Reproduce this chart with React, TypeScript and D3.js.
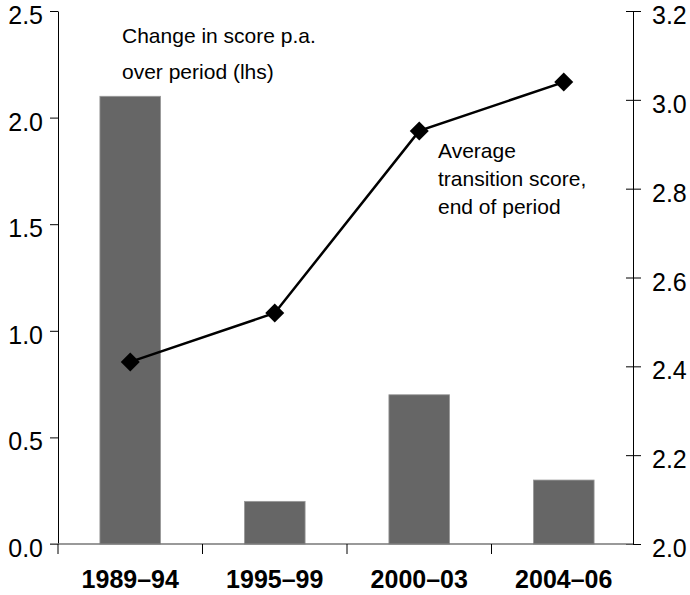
import { useEffect, useRef } from 'react'
import * as d3 from 'd3'

const periods = ['1989–94', '1995–99', '2000–03', '2004–06']
const changePA = [2.1, 0.2, 0.7, 0.3]
const avgScore = [2.41, 2.52, 2.93, 3.04]
const leftTicks = [0, 0.5, 1.0, 1.5, 2.0, 2.5]
const rightTicks = [2.0, 2.2, 2.4, 2.6, 2.8, 3.0, 3.2]

const W = 690
const H = 595
const FONT = '"Liberation Sans", Arial, sans-serif'

export default function App() {
  const svgRef = useRef<SVGSVGElement>(null)

  useEffect(() => {
    if (!svgRef.current) return
    const svg = d3.select(svgRef.current)
    svg.selectAll('*').remove()

    const left = 58
    const right = 633
    const top = 11
    const bottom = 544

    // category scales: one for the tick slots, one for the bars
    const xSlot = d3.scaleBand<string>().domain(periods).range([left, 636])
    const xBar = d3.scaleBand<string>().domain(periods).range([left, 636])
      .paddingInner(0.58).paddingOuter(0.29)

    const yL = d3.scaleLinear().domain([0, 2.5]).range([bottom, top])
    const yR = d3.scaleLinear().domain([2.0, 3.2]).range([bottom, top])

    // bars
    svg.append('g')
      .selectAll('rect')
      .data(periods)
      .enter().append('rect')
      .attr('x', d => xBar(d)!)
      .attr('y', (d, i) => yL(changePA[i]))
      .attr('width', xBar.bandwidth())
      .attr('height', (d, i) => yL(0) - yL(changePA[i]))
      .attr('fill', '#666666')
      .attr('stroke', '#9a9a9a')
      .attr('stroke-width', 0.8)

    // left axis
    const gl = svg.append('g').attr('transform', `translate(${left},0)`)
    gl.call(d3.axisLeft(yL).tickValues(leftTicks).tickFormat(d3.format('.1f')).tickSize(8).tickSizeOuter(0))
    gl.select('.domain').attr('stroke', '#000').attr('stroke-width', 1)
    gl.selectAll('.tick line').attr('stroke', '#000')
    gl.selectAll('.tick text')
      .attr('x', -15)
      .attr('dy', '0.5em')
      .style('font-family', FONT)
      .style('font-size', '25px')
      .attr('fill', '#000')

    // right axis
    const gr = svg.append('g').attr('transform', `translate(${right},0)`)
    gr.call(d3.axisRight(yR).tickValues(rightTicks).tickFormat(d3.format('.1f')).tickSize(8).tickSizeOuter(0))
    gr.select('.domain').attr('stroke', '#000').attr('stroke-width', 1)
    gr.selectAll('.tick line').attr('x1', -7).attr('stroke', '#000')
    gr.selectAll('.tick text')
      .attr('x', 19)
      .attr('dy', '0.5em')
      .style('font-family', FONT)
      .style('font-size', '25px')
      .attr('fill', '#000')

    // baseline and category axis
    svg.append('line')
      .attr('x1', 50).attr('x2', right)
      .attr('y1', bottom).attr('y2', bottom)
      .attr('stroke', '#777').attr('stroke-width', 1.3)

    const slotEdges = periods.map(p => xSlot(p)!)
    svg.append('g')
      .selectAll('line')
      .data(slotEdges)
      .enter().append('line')
      .attr('x1', d => d).attr('x2', d => d)
      .attr('y1', bottom).attr('y2', bottom + 10)
      .attr('stroke', '#000')

    svg.append('g')
      .selectAll('text')
      .data(periods)
      .enter().append('text')
      .attr('x', d => xBar(d)! + xBar.bandwidth() / 2)
      .attr('y', 588)
      .attr('text-anchor', 'middle')
      .style('font-family', FONT)
      .style('font-size', '25px')
      .style('font-weight', 'bold')
      .text(d => d)

    // line series on right axis
    const pts = periods.map((p, i) => [xBar(p)! + xBar.bandwidth() / 2, yR(avgScore[i])] as [number, number])
    svg.append('path')
      .attr('d', d3.line()(pts))
      .attr('fill', 'none')
      .attr('stroke', '#000')
      .attr('stroke-width', 2.5)

    svg.append('g')
      .selectAll('path')
      .data(pts)
      .enter().append('path')
      .attr('d', d3.symbol(d3.symbolSquare, 180)())
      .attr('transform', d => `translate(${d[0]},${d[1]}) rotate(45)`)
      .attr('fill', '#000')

    // annotations
    const ann1 = svg.append('text')
      .style('font-family', FONT)
      .style('font-size', '21px')
      .attr('fill', '#000')
    ann1.append('tspan').attr('x', 122).attr('y', 43).text('Change in score p.a.')
    ann1.append('tspan').attr('x', 122).attr('y', 79).text('over period (lhs)')

    const ann2 = svg.append('text')
      .style('font-family', FONT)
      .style('font-size', '21px')
      .attr('fill', '#000')
    ann2.append('tspan').attr('x', 438).attr('y', 158).text('Average')
    ann2.append('tspan').attr('x', 438).attr('y', 186).text('transition score,')
    ann2.append('tspan').attr('x', 438).attr('y', 214).text('end of period')
  }, [])

  return (
    <svg
      ref={svgRef}
      width={W}
      height={H}
      style={{ position: 'absolute', left: 0, top: 0, background: '#fff', display: 'block' }}
    />
  )
}
